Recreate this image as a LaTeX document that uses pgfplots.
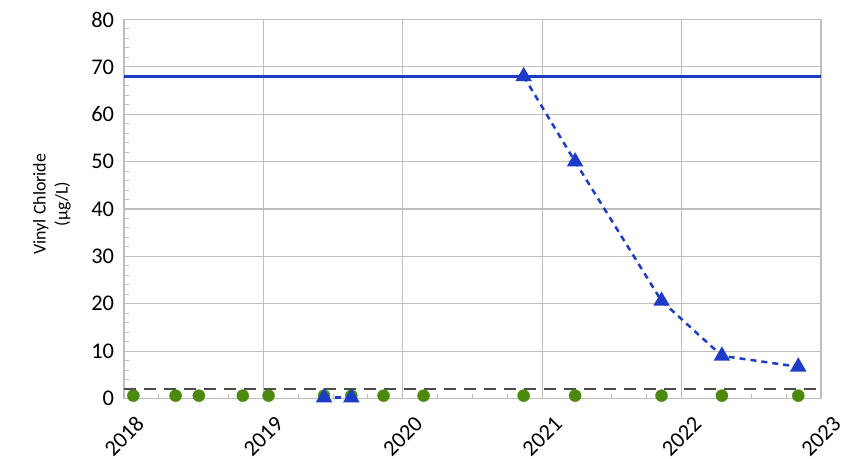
\documentclass[border=0pt]{standalone}
\usepackage{pgfplots}
\pgfplotsset{compat=1.18}
\usepackage{fontspec}
\setmainfont{Carlito}
\definecolor{vcblue}{RGB}{28,60,200}
\definecolor{vcgreen}{RGB}{76,138,14}
\definecolor{gridgray}{RGB}{190,190,190}
\definecolor{dashgray}{RGB}{75,75,75}
\begin{document}
\begin{tikzpicture}
\useasboundingbox (-124bp,-60.5bp) rectangle (721bp,398.5bp);
\begin{axis}[
  scale only axis, width=697bp, height=379bp,
  xmin=2018, xmax=2023, ymin=0, ymax=80,
  xtick={2018,2019,2020,2021,2022,2023},
  xticklabels={2018,2019,2020,2021,2022,2023},
  ytick={0,10,20,30,40,50,60,70,80},
  minor x tick num=3, minor y tick num=4,
  xtick pos=bottom, ytick pos=left,
  tick align=inside,
  major tick length=0pt, minor tick length=5bp,
  minor tick style={gridgray, line width=1bp},
  grid=major, grid style={gridgray, line width=1.2bp},
  axis line style={gridgray, line width=1.2bp},
  /pgf/number format/assume math mode=true,
  ticklabel style={font=\fontsize{22.5}{27}\selectfont, text=black},
  yticklabel style={anchor=east, xshift=-6.5bp},
  xticklabel style={anchor=center, yshift=-38bp, rotate=45},
  ylabel={Vinyl Chloride\\(µg/L)},
  ylabel style={at={(axis description cs:-0.1033,0.513)}, anchor=center, align=center, font=\fontsize{18}{22}\selectfont},
  clip=true,
]
\addplot[dashgray, line width=2bp, dash pattern=on 12bp off 8bp] coordinates {(2018,2) (2023,2)};
\addplot[vcblue, line width=2.5bp] coordinates {(2018,68) (2023,68)};
\addplot[only marks, mark=*, mark size=6bp, color=vcgreen, mark options={draw=none, fill=vcgreen}] coordinates {
(2018.067,0.6) (2018.370,0.6) (2018.537,0.6) (2018.852,0.6) (2019.037,0.6)
(2019.435,0.6) (2019.631,0.6) (2019.862,0.6) (2020.149,0.6) (2020.867,0.6)
(2021.236,0.6) (2021.856,0.6) (2022.289,0.6) (2022.837,0.6)};
\addplot[vcblue, line width=2.5bp, dash pattern=on 6bp off 5bp, mark=triangle*, mark size=7bp, mark options={solid, draw=none, fill=vcblue}] coordinates {(2019.435,0.2) (2019.631,0.2)};
\addplot[vcblue, line width=2.5bp, dash pattern=on 6bp off 5bp, mark=triangle*, mark size=7bp, mark options={solid, draw=none, fill=vcblue}] coordinates {
(2020.867,68) (2021.236,50) (2021.856,20.6) (2022.289,9.0) (2022.837,6.7)};
\end{axis}
\end{tikzpicture}
\end{document}
